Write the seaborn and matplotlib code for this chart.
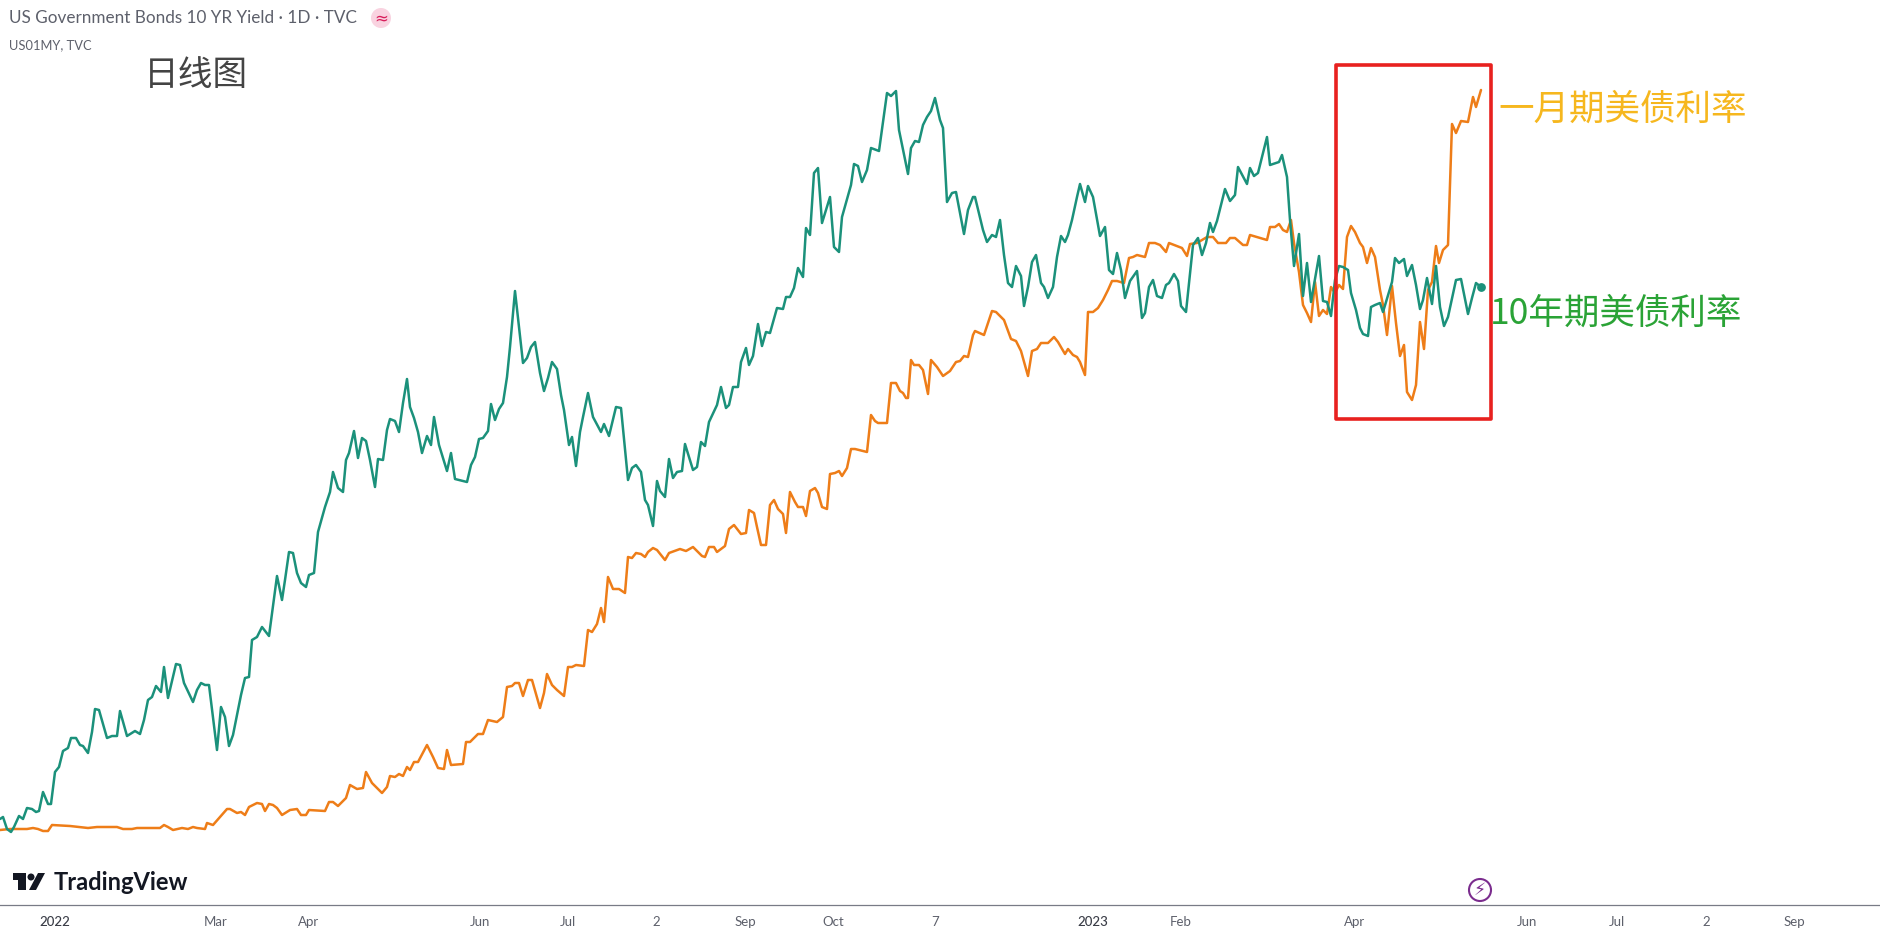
import matplotlib
matplotlib.use("Agg")
import matplotlib.pyplot as plt
from matplotlib.patches import Rectangle, Circle, Polygon
from matplotlib.transforms import Affine2D
import pandas as pd
import seaborn as sns

# (time position, relative level): 4 time units are one trading session
teal_2022a = [(0,181),(3,183),(7,171),(11,168),(14,173),(19,184),(23,181),(27,192),(32,191),(36,188),(39,189),(43,208),(48,196),(51,196),(55,228),(59,233),(63,249),(68,252),(71,262),(76,262),(80,255),(83,254),(88,247),(92,268),(95,291),(99,290),(107,262),(112,264),(117,264),(120,289),(127,264),(135,269),(140,266),(144,280),(148,300),(152,303),(156,314),(161,308),(164,333),(168,302),(176,336),(180,335),(184,317),(193,298),(197,310),(201,317),(205,315),(209,315),(217,250),(221,293),(225,283),(229,254),(233,265),(237,285),(241,305),(245,322),(249,323),(252,360),(257,363),(262,373),(269,364),(277,424),(282,400),(285,420),(289,448),(293,447),(297,427),(301,417),(306,413),(309,425),(314,427),(318,468),(325,493),(330,508),(333,528),(338,512),(343,508),(346,540),(349,547),(354,569),(358,542),(362,562),(366,559),(370,540),(375,513),(378,541),(383,540),(387,570),(390,581),(395,579),(399,568),(403,597),(407,621),(410,593),(414,582),(418,568),(422,547),(427,564),(431,555),(434,583),(439,555),(447,529),(451,547),(455,521),(467,518),(471,535),(475,543),(479,561),(483,562),(488,569),(491,596),(495,580),(499,591),(503,597),(507,623),(510,653),(515,709)]
teal_2022b = [(523,637),(527,642),(531,653),(535,658),(540,627),(544,609),(548,622),(552,638),(557,631),(561,605),(564,590),(569,555),(572,563),(576,534),(580,568),(583,583),(588,607),(593,583),(601,568),(604,576),(609,564),(616,593),(621,592),(628,520),(632,532),(636,535),(641,528),(645,500),(648,495),(653,474),(657,519),(660,509),(665,503),(669,541),(673,522),(677,528),(682,529),(685,556),(693,530),(697,533),(701,558),(705,554),(709,578),(717,595),(721,613),(726,592),(729,595),(733,613),(738,613),(741,638),(746,652),(749,635),(753,644),(758,676),(762,654),(766,668),(770,667),(777,692),(783,691),(786,703),(790,703),(794,712),(798,732),(803,723),(806,772),(810,765),(814,827),(818,832),(822,777),(830,803),(834,753),(839,748),(842,783),(851,815),(854,836),(858,834),(862,818),(867,830),(871,852),(879,849),(887,907),(891,904),(896,909),(899,870),(908,826),(911,852),(915,859),(919,858),(923,875),(927,883),(931,889),(935,902),(940,880),(943,872),(947,798),(952,807),(956,808),(964,766),(968,790),(973,803),(975,803),(983,770),(987,758),(992,765),(996,763),(1000,780),(1004,745),(1008,717),(1012,713),(1016,734),(1021,724),(1024,694),(1028,713),(1032,738),(1036,745),(1041,717),(1044,713),(1048,702),(1053,713),(1057,743),(1061,764),(1065,758),(1068,765),(1072,780),(1077,803),(1080,816),(1085,798),(1088,814),(1093,803)]
teal_2023 = [(1100,764),(1105,773),(1109,730),(1113,726),(1117,747),(1121,730),(1125,702),(1130,719),(1137,729),(1142,682),(1145,687),(1149,713),(1153,720),(1157,704),(1162,702),(1166,715),(1169,717),(1174,726),(1178,719),(1181,694),(1186,688),(1193,755),(1198,762),(1202,745),(1206,757),(1210,777),(1213,768),(1217,779),(1225,811),(1230,799),(1235,805),(1238,833),(1247,816),(1250,832),(1254,824),(1258,827),(1267,863),(1270,835),(1279,838),(1282,845),(1287,823),(1290,780),(1294,734),(1299,766),(1303,704),(1307,737),(1311,698),(1319,744),(1323,699),(1327,698),(1331,684),(1335,720),(1339,734),(1343,733),(1348,730),(1351,707),(1356,690),(1360,672),(1363,666),(1368,664),(1371,693),(1375,695),(1380,697),(1383,688),(1392,718),(1395,742),(1399,737),(1404,741),(1407,724),(1412,735),(1416,715),(1420,691),(1423,700),(1427,722),(1432,696),(1436,734),(1440,693),(1444,674),(1448,683),(1456,720),(1461,721),(1468,686),(1472,702),(1476,717),(1481,713)]

orange_2022a = [(0,170),(10,171),(27,171),(33,172),(38,171),(43,169),(48,169),(52,175),(70,174),(88,172),(97,173),(117,173),(123,171),(132,171),(137,172),(147,172),(160,172),(164,175),(168,173),(173,170),(182,172),(188,171),(193,173),(197,172),(205,171),(207,177),(213,175),(220,183),(227,191),(230,191),(237,187),(241,188),(245,185),(249,193),(257,197),(262,196),(265,189),(269,196),(273,195),(277,192),(282,185),(290,190),(297,191),(301,185),(306,185),(309,190),(325,189),(329,198),(333,198),(338,194),(346,202),(350,215),(357,211),(363,212),(366,228),(372,217),(382,207),(387,213),(390,224),(395,223),(399,226),(403,224),(407,233),(410,230),(414,238),(418,238),(427,255),(433,243),(438,232),(444,231),(447,250),(451,235),(463,236),(466,258),(470,258),(478,266),(483,266),(488,280),(497,278),(503,283),(507,313),(512,314),(515,317),(519,317),(523,304),(528,320),(532,320),(540,292),(544,307),(547,326),(552,315),(557,310),(564,304),(568,333),(572,333),(576,335),(584,334),(588,370),(592,368),(597,376),(601,392),(604,378),(608,423),(613,411),(619,411),(625,407),(628,443),(632,442),(636,447),(641,446),(645,443),(648,448),(653,452),(657,450),(665,440),(669,447),(680,451),(686,449),(693,453),(702,444),(705,443),(709,453),(714,453),(717,448),(725,454)]
orange_2022b = [(729,471),(734,475),(741,466),(746,467),(749,490),(754,487),(757,473),(761,455),(766,455),(770,495),(774,500),(778,491),(783,486),(786,467),(790,508),(795,498),(798,493),(803,493),(806,484),(810,509),(815,512),(818,507),(822,493),(827,491),(830,526),(835,527),(839,529),(842,524),(847,532),(851,551),(855,551),(867,548),(871,585),(875,579),(878,577),(887,577),(891,617),(896,617),(900,609),(903,607),(906,602),(908,602),(911,640),(914,635),(919,635),(923,630),(928,606),(931,640),(937,633),(943,624),(950,629),(956,638),(960,639),(964,644),(968,643),(973,665),(975,669),(984,665),(992,689),(996,688),(1004,680),(1011,661),(1016,659),(1021,649),(1028,624),(1032,649),(1037,651),(1041,657),(1048,657),(1054,663),(1058,658),(1065,646),(1068,651),(1073,645),(1077,643),(1080,638),(1085,625)]
orange_2023 = [(1088,688),(1093,688),(1098,692),(1103,700),(1108,710),(1112,719),(1117,719),(1124,717),(1129,742),(1133,743),(1137,745),(1145,743),(1149,757),(1155,757),(1160,755),(1166,748),(1169,757),(1182,752),(1187,744),(1190,756),(1197,757),(1207,763),(1213,763),(1218,757),(1226,757),(1230,762),(1235,762),(1243,755),(1247,755),(1250,765),(1267,760),(1270,773),(1275,773),(1279,776),(1283,770),(1287,768),(1291,780),(1294,757),(1299,728),(1303,695),(1307,687),(1311,678),(1315,718),(1319,684),(1323,690),(1327,686),(1331,713),(1335,707),(1339,715),(1343,711),(1347,763),(1351,774),(1355,768),(1360,757),(1363,753),(1367,737),(1371,752),(1375,743),(1380,710),(1383,695),(1387,665),(1392,714),(1396,677),(1400,644),(1404,655),(1407,608),(1412,600),(1416,615),(1420,678),(1424,651),(1428,710),(1432,718),(1436,754),(1439,737),(1443,750),(1448,755),(1452,876),(1456,867),(1461,879),(1468,878),(1473,903),(1476,893),(1481,910)]

tick_t = [55,216,309,480,568,656,745,833,935,1093,1181,1355,1527,1617,1706,1794]
tick_lab = ["2022","Mar","Apr","Jun","Jul","2","Sep","Oct","7","2023","Feb","Apr","Jun","Jul","2","Sep"]
year_ticks = {"2022","2023"}

TEAL = "#1b917b"
ORANGE = "#ee7d18"

sns.set_theme(style="white")
plt.rcParams["font.family"] = ["Lato", "Noto Sans CJK SC", "DejaVu Sans"]

W, H = 1881, 936
fig = plt.figure(figsize=(W / 100, H / 100), dpi=100, facecolor="white")
ax = fig.add_axes([0, (H - 904.5) / H, 1, 904.5 / H])
px = Affine2D().scale(1 / W, -1 / H).translate(0, 1) + fig.transFigure

teal = teal_2022a + teal_2022b + teal_2023
orange = orange_2022a + orange_2022b + orange_2023
df = pd.concat([
    pd.DataFrame(orange, columns=["t", "v"]).assign(s="US01MY"),
    pd.DataFrame(teal, columns=["t", "v"]).assign(s="US10Y"),
])
sns.lineplot(data=df, x="t", y="v", hue="s", hue_order=["US01MY", "US10Y"],
             palette=[ORANGE, TEAL], estimator=None, sort=False, linewidth=1.8,
             legend=False, ax=ax)
ax.scatter([teal[-1][0]], [teal[-1][1]], s=28, color=TEAL, zorder=5)

ax.set_xlim(0, W)
ax.set_ylim(95.5, 1000)
ax.set_xlabel("")
ax.set_ylabel("")
ax.set_yticks([])
ax.set_xticks(tick_t)
ax.set_xticklabels(tick_lab)
ax.tick_params(axis="x", length=0, pad=8, labelsize=9.5, labelcolor="#5d606b")
for lab in ax.get_xticklabels():
    if lab.get_text() in year_ticks:
        lab.set_color("#3a3d47")
        lab.set_fontweight("medium")
for s in ["top", "left", "right"]:
    ax.spines[s].set_visible(False)
ax.spines["bottom"].set_color("#787b86")
ax.spines["bottom"].set_linewidth(0.9)

# highlight frame
ax.add_patch(Rectangle((1336, 581), 155, 354, fill=False, edgecolor="#e8211f",
                       linewidth=2.6, joinstyle="round", zorder=6))

GREY = "#5d606b"
CJK = ["Noto Sans CJK SC", "DejaVu Sans"]
fig.text(9, 18, "US Government Bonds 10 YR Yield · 1D · TVC", transform=px, fontsize=12.35,
         color=GREY, va="center", ha="left")
fig.text(9, 45, "US01MY, TVC", transform=px, fontsize=9.25, color=GREY, va="center", ha="left")
fig.text(144, 75, "日线图", transform=px, fontsize=25, color="#444444", va="center", ha="left", family=CJK)
fig.text(1498, 110, "一月期美债利率", transform=px, fontsize=25.6, color="#f6b71e", va="center", ha="left",
         family=CJK, fontweight="medium")
fig.text(1490, 314, "10年期美债利率", transform=px, fontsize=25.6, color="#2aa336", va="center", ha="left",
         family=CJK, fontweight="medium")

# badge beside the title
fig.add_artist(Circle((381, 18), 10, transform=px, facecolor="#f9d3e0", edgecolor="none"))
fig.text(381, 18, "≈", transform=px, fontsize=12, color="#d81e5b", va="center", ha="center", family="DejaVu Sans")

# bolt icon on the axis
fig.add_artist(Circle((1480, 890), 11, transform=px, facecolor="white", edgecolor="#7b2d8e", linewidth=1.5))
fig.text(1480, 890, "⚡", transform=px, fontsize=12.5, color="#7b2d8e", va="center", ha="center", family="DejaVu Sans")

# TradingView logo
LOGO = "#131722"
fig.add_artist(Polygon([(13, 873), (26, 873), (26, 890), (18, 890), (18, 880), (13, 880)],
                       transform=px, facecolor=LOGO, edgecolor="none"))
fig.add_artist(Circle((31, 877), 3.5, transform=px, facecolor=LOGO, edgecolor="none"))
fig.add_artist(Polygon([(38, 873), (45, 873), (36, 890), (29, 890)],
                       transform=px, facecolor=LOGO, edgecolor="none"))
fig.text(54, 882, "TradingView", transform=px, fontsize=17, color=LOGO, va="center", ha="left",
         fontweight="bold")

fig.savefig("out.png", dpi=100, facecolor="white")
